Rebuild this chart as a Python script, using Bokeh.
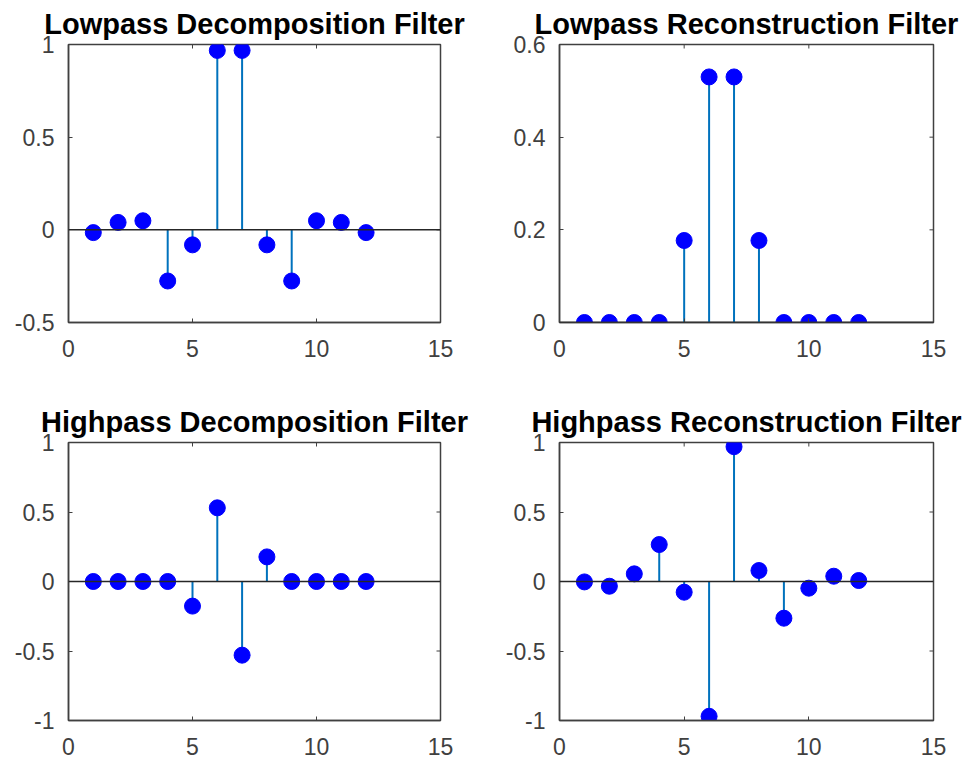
import math
from bokeh.plotting import figure
from bokeh.layouts import column, row
from bokeh.models import FixedTicker, Span, Range1d
from bokeh.embed import file_html
from bokeh.resources import INLINE

n = list(range(1, 13))
lo_d = [-0.015, 0.04, 0.049, -0.276, -0.081, 0.968, 0.968, -0.081, -0.276, 0.049, 0.04, -0.015]
lo_r = [0, 0, 0, 0, 0.177, 0.53, 0.53, 0.177, 0, 0, 0, 0]
hi_d = [0, 0, 0, 0, -0.177, 0.53, -0.53, 0.177, 0, 0, 0, 0]
hi_r = [-0.003, -0.034, 0.055, 0.266, -0.077, -0.97, 0.97, 0.079, -0.264, -0.048, 0.038, 0.007]

titles = ["Lowpass Decomposition Filter", "Lowpass Reconstruction Filter",
          "Highpass Decomposition Filter", "Highpass Reconstruction Filter"]
x_ticks = [0, 5, 10, 15]
x_range = (0, 15)
y_ranges = [(-0.5, 1), (0, 0.6), (-1, 1), (-1, 1)]
y_ticks = [[-0.5, 0, 0.5, 1], [0, 0.2, 0.4, 0.6], [-1, -0.5, 0, 0.5, 1], [-1, -0.5, 0, 0.5, 1]]
y_labels = [{-0.5: "-0.5", 0: "0", 0.5: "0.5", 1: "1"},
            {0: "0", 0.2: "0.2", 0.4: "0.4", 0.6: "0.6"},
            {-1: "-1", -0.5: "-0.5", 0: "0", 0.5: "0.5", 1: "1"},
            {-1: "-1", -0.5: "-0.5", 0: "0", 0.5: "0.5", 1: "1"}]
series = [lo_d, lo_r, hi_d, hi_r]

FONT = "Liberation Sans"
AX = "#404040"

# layout: (border_left, border_right, border_top, border_bottom, frame_w, frame_h)
geo = [(68, 50, 44, 60, 372, 278),
       (69, 38, 44, 60, 374, 278),
       (68, 50, 60, 44, 372, 278),
       (69, 38, 60, 44, 374, 278)]

figs = []
for i in range(4):
    bl, br, bt, bb, fw, fh = geo[i]
    ylo, yhi = y_ranges[i]
    p = figure(frame_width=fw, frame_height=fh, output_backend="svg", toolbar_location=None,
               x_range=Range1d(*x_range), y_range=Range1d(ylo, yhi),
               min_border_left=bl, min_border_right=br, min_border_top=bt, min_border_bottom=bb)
    p.title.text = titles[i]
    p.title.text_font = FONT
    p.title.text_font_size = "29px"
    p.title.text_font_style = "bold"
    p.title.text_color = "black"
    p.title.align = "center"
    p.title.standoff = 9
    p.grid.visible = False
    p.outline_line_color = AX
    p.outline_line_width = 1.5
    p.background_fill_color = "white"
    p.border_fill_color = "white"

    for ax in p.xaxis:
        ax.ticker = FixedTicker(ticks=x_ticks)
        ax.major_label_standoff = 17
    for ax in p.yaxis:
        ax.ticker = FixedTicker(ticks=y_ticks[i])
        ax.major_label_overrides = y_labels[i]
        ax.major_label_standoff = 14
    for ax in list(p.xaxis) + list(p.yaxis):
        ax.major_tick_in = 4
        ax.major_tick_out = 0
        ax.minor_tick_line_color = None
        ax.major_tick_line_color = AX
        ax.axis_line_color = AX
        ax.axis_line_width = 1.5
        ax.major_label_text_font = FONT
        ax.major_label_text_font_size = "23px"
        ax.major_label_text_color = AX

    # mirrored inward tick marks on the top and right edges (outer half clipped by frame)
    p.scatter(x=x_ticks, y=[yhi] * len(x_ticks), marker="dash", angle=math.pi / 2,
              size=8, line_color=AX, line_width=1)
    p.scatter(x=[x_range[1]] * len(y_ticks[i]), y=y_ticks[i], marker="dash",
              size=8, line_color=AX, line_width=1)

    base = Span(location=0, dimension="width", line_color="#262626", line_width=1.5)
    p.add_layout(base)

    y = series[i]
    p.segment(x0=n, y0=[0] * len(n), x1=n, y1=y, line_color="#0072BD", line_width=2)
    p.scatter(x=n, y=y, size=16, fill_color="#0000FF", line_color="#0000FF")
    figs.append(p)

layout = column(row(figs[0], figs[1]), row(figs[2], figs[3]))
open("out.html", "w").write(file_html(layout, INLINE))
